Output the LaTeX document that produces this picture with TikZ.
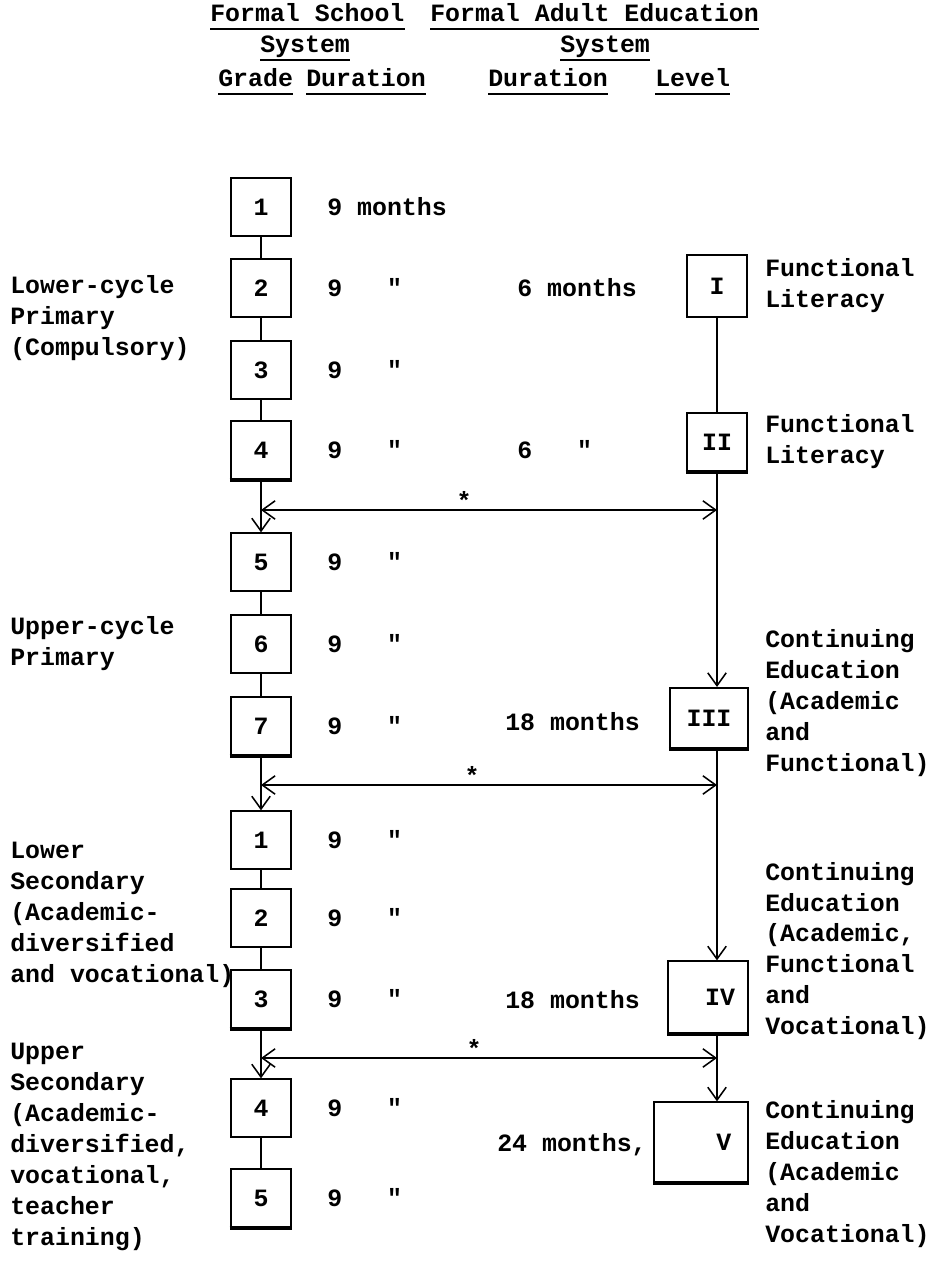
\documentclass[tikz,border=0pt]{standalone}
\usepackage{fontspec}
\setmainfont{Liberation Mono}[Ligatures=TeXOff, BoldFont={Liberation Mono Bold}]
\usetikzlibrary{arrows.meta}
\newcommand{\ditto}{\symbol{34}}

\begin{document}
\begin{tikzpicture}[x=0.025cm, y=-0.025cm, >={Straight Barb[length=3.2mm, width=4.6mm]},
    every node/.append style={font=\fontsize{17.7}{22}\selectfont\bfseries},
    gradebox/.style={draw, line width=1.5pt, minimum width=1.52cm, minimum height=1.43cm, inner sep=0pt},
    lab/.style={anchor=west, align=left, inner sep=0pt},
    head/.style={lab, text height=12pt, text depth=5pt},
    link/.style={line width=1.1pt},
    heavy/.style={line width=3pt}]
    \useasboundingbox (0,0) rectangle (947,1270);

    % headings
    \node[head] (hfs) at (210,17) {Formal School};
    \node[head] (hfa) at (430,17) {Formal Adult Education};
    \node[head] (hsy1) at (260,48) {System};
    \node[head] (hsy2) at (560,48) {System};
    \node[head] (hgr) at (218,82) {Grade};
    \node[head] (hdu1) at (306,82) {Duration};
    \node[head] (hdu2) at (488,82) {Duration};
    \node[head] (hlv) at (655,82) {Level};
    \foreach \h in {hfs, hfa, hsy1, hsy2, hgr, hdu1, hdu2, hlv}
        \draw[line width=1.3pt] (\h.south west) -- (\h.south east);

    % formal school grades
    \node[gradebox] (p1) at (261,207) {1};
    \node[gradebox] (p2) at (261,288) {2};
    \node[gradebox] (p3) at (261,370) {3};
    \node[gradebox] (p4) at (261,450) {4};
    \node[gradebox] (p5) at (261,562) {5};
    \node[gradebox] (p6) at (261,644) {6};
    \node[gradebox] (p7) at (261,726) {7};
    \node[gradebox] (s1) at (261,840) {1};
    \node[gradebox] (s2) at (261,918) {2};
    \node[gradebox] (s3) at (261,999) {3};
    \node[gradebox] (s4) at (261,1108) {4};
    \node[gradebox] (s5) at (261,1198) {5};

    \node[lab] (dp1) at (327,207) {9 months};
    \node[lab] (dp2) at (327,288) {9\ \ \ \ditto};
    \node[lab] (dp3) at (327,370) {9\ \ \ \ditto};
    \node[lab] (dp4) at (327,450) {9\ \ \ \ditto};
    \node[lab] (dp5) at (327,562) {9\ \ \ \ditto};
    \node[lab] (dp6) at (327,644) {9\ \ \ \ditto};
    \node[lab] (dp7) at (327,726) {9\ \ \ \ditto};
    \node[lab] (ds1) at (327,840) {9\ \ \ \ditto};
    \node[lab] (ds2) at (327,918) {9\ \ \ \ditto};
    \node[lab] (ds3) at (327,999) {9\ \ \ \ditto};
    \node[lab] (ds4) at (327,1108) {9\ \ \ \ditto};
    \node[lab] (ds5) at (327,1198) {9\ \ \ \ditto};

    \draw[link] (p1) -- (p2);
    \draw[link] (p2) -- (p3);
    \draw[link] (p3) -- (p4);
    \draw[link,->] (p4) -- (p5);
    \draw[link] (p5) -- (p6);
    \draw[link] (p6) -- (p7);
    \draw[link,->] (p7) -- (s1);
    \draw[link] (s1) -- (s2);
    \draw[link] (s2) -- (s3);
    \draw[link,->] (s3) -- (s4);
    \draw[link] (s4) -- (s5);

    % adult education levels
    \node[gradebox, minimum height=1.55cm] (l1) at (717,286) {I};
    \node[gradebox] (l2) at (717,442) {II};
    \node[gradebox, minimum width=1.95cm, minimum height=1.5cm] (l3) at (709,718) {III};
    \node[gradebox, minimum width=1.98cm, minimum height=1.78cm, text width=1.35cm, align=right] (l4) at (708,997) {IV};
    \node[gradebox, minimum width=2.33cm, minimum height=1.98cm, text width=1.52cm, align=right] (l5) at (701,1142) {V};

    \node[lab] (dl1) at (517,288) {6 months};
    \node[lab] (dl2) at (517,450) {6\ \ \ \ditto};
    \node[lab] (dl3) at (505,722) {18 months};
    \node[lab] (dl4) at (505,1000) {18 months};
    \node[lab] (dl5) at (497,1145) {24 months,};

    \draw[link] (l1) -- (l2);
    \draw[link,->] (l2.south) -- (l2.south |- l3.north);
    \draw[link,->] (l3.south -| l2.south) -- (l4.north -| l2.south);
    \draw[link,->] (l4.south -| l2.south) -- (l5.north -| l2.south);

    \foreach \b in {p4, p7, s3, s5, l2, l3, l4, l5}
        \draw[heavy] (\b.south west) -- (\b.south east);

    % transfer points
    \coordinate (a1) at (480,510);
    \coordinate (a2) at (480,785);
    \coordinate (a3) at (480,1058);
    \draw[link,<->] (a1 -| p4.south) -- (a1 -| l2.south);
    \draw[link,<->] (a2 -| p7.south) -- (a2 -| l2.south);
    \draw[link,<->] (a3 -| s3.south) -- (a3 -| l2.south);
    \node (st1) at (464,500) {*};
    \node (st2) at (472,775) {*};
    \node (st3) at (474,1048) {*};

    % stage labels
    \node[lab] (lcp) at (10,318) {Lower-cycle\\Primary\\(Compulsory)};
    \node[lab] (ucp) at (10,644) {Upper-cycle\\Primary};
    \node[lab] (lsec) at (10,915) {Lower\\Secondary\\(Academic-\\diversified\\and vocational)};
    \node[lab] (usec) at (10,1147) {Upper\\Secondary\\(Academic-\\diversified,\\vocational,\\teacher\\training)};

    \node[lab] (fl1) at (765,286) {Functional\\Literacy};
    \node[lab] (fl2) at (765,442) {Functional\\Literacy};
    \node[lab] (ce1) at (765,703) {Continuing\\Education\\(Academic\\and\\Functional)};
    \node[lab] (ce2) at (765,951) {Continuing\\Education\\(Academic,\\Functional\\and\\Vocational)};
    \node[lab] (ce3) at (765,1174) {Continuing\\Education\\(Academic\\and\\Vocational)};
\end{tikzpicture}
\end{document}
